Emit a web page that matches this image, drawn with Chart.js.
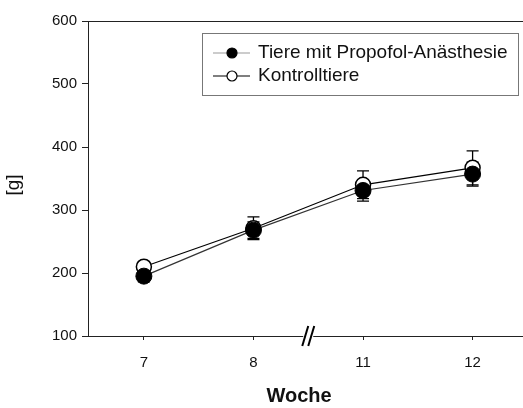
<!DOCTYPE html>
<html>
<head>
<meta charset="utf-8">
<script src="https://cdn.jsdelivr.net/npm/chart.js@4.4.1/dist/chart.umd.min.js"></script>
<style>
  html, body { margin: 0; padding: 0; background: #fff; overflow: hidden; }
  #wrap { width: 523px; height: 408px; position: relative; }
</style>
</head>
<body>
<div id="wrap"><canvas id="c" width="523" height="408"></canvas></div>
<script>
// Body weight per week, mean ± SD
const weeks = ['7', '8', '11', '12'];
const propofolMean = [195, 268, 331, 357];
const propofolErr = [9, 13, 17, 19];
const controlMean = [210, 271, 340, 367];
const controlErr = [8, 18, 22, 27];
const yTicks = [100, 200, 300, 400, 500, 600];
const labelPropofol = 'Tiere mit Propofol-Anästhesie';
const labelControl = 'Kontrolltiere';
const xTitle = 'Woche';
const yTitle = '[g]';

const FONT = '"Liberation Sans", Arial, sans-serif';

const toPoints = arr => arr.map((v, i) => ({ x: i, y: v }));

// error bars, axis break, frame, titles and legend
const decor = {
  id: 'decor',
  beforeDatasetsDraw(chart) {
    const { ctx } = chart;
    const xs = chart.scales.x, ys = chart.scales.y;
    const sets = [[controlMean, controlErr], [propofolMean, propofolErr]];
    ctx.save();
    ctx.strokeStyle = '#000';
    ctx.lineWidth = 1.3;
    sets.forEach(([m, e]) => {
      m.forEach((v, i) => {
        const x = xs.getPixelForValue(i);
        const yt = ys.getPixelForValue(v + e[i]);
        const yb = ys.getPixelForValue(v - e[i]);
        ctx.beginPath();
        ctx.moveTo(x, yt); ctx.lineTo(x, yb);
        ctx.moveTo(x - 6, yt); ctx.lineTo(x + 6, yt);
        ctx.moveTo(x - 6, yb); ctx.lineTo(x + 6, yb);
        ctx.stroke();
      });
    });
    ctx.restore();
  },
  afterDraw(chart) {
    const { ctx, chartArea } = chart;
    const xs = chart.scales.x;
    ctx.save();
    // top frame line
    ctx.strokeStyle = '#222';
    ctx.lineWidth = 1;
    ctx.beginPath();
    ctx.moveTo(chartArea.left, chartArea.top + 0.5);
    ctx.lineTo(chart.width, chartArea.top + 0.5);
    ctx.stroke();

    // axis break between week 8 and 11
    const bx = xs.getPixelForValue(1.5);
    const by = chartArea.bottom;
    ctx.fillStyle = '#fff';
    ctx.fillRect(bx - 5, by - 2, 10, 4);
    ctx.strokeStyle = '#000';
    ctx.lineWidth = 2;
    [-3, 3].forEach(d => {
      ctx.beginPath();
      ctx.moveTo(bx + d + 3, by - 10);
      ctx.lineTo(bx + d - 3, by + 10);
      ctx.stroke();
    });

    // axis titles
    ctx.fillStyle = '#111';
    ctx.textAlign = 'center';
    ctx.textBaseline = 'middle';
    ctx.font = 'bold 20px ' + FONT;
    ctx.fillText(xTitle, 299, 396);
    ctx.save();
    ctx.translate(14, 185);
    ctx.rotate(-Math.PI / 2);
    ctx.font = '19px ' + FONT;
    ctx.fillText(yTitle, 0, 0);
    ctx.restore();

    // legend
    const lx = 202.5, ly = 33.5, lw = 316, lh = 62;
    ctx.strokeStyle = '#777';
    ctx.lineWidth = 1;
    ctx.strokeRect(lx, ly, lw, lh);
    const rows = [
      { y: 53, line: '#999', fill: '#000', label: labelPropofol },
      { y: 76, line: '#000', fill: '#fff', label: labelControl }
    ];
    rows.forEach(r => {
      ctx.strokeStyle = r.line;
      ctx.lineWidth = 1.2;
      ctx.beginPath();
      ctx.moveTo(213, r.y); ctx.lineTo(250, r.y);
      ctx.stroke();
      ctx.beginPath();
      ctx.arc(232, r.y, 5, 0, Math.PI * 2);
      ctx.fillStyle = r.fill;
      ctx.fill();
      ctx.strokeStyle = '#000';
      ctx.lineWidth = 1.2;
      ctx.stroke();
      ctx.fillStyle = '#111';
      ctx.textAlign = 'left';
      ctx.font = '19px ' + FONT;
      ctx.fillText(r.label, 258, r.y);
    });
    ctx.restore();
  }
};

new Chart(document.getElementById('c'), {
  type: 'line',
  data: {
    datasets: [
      {
        label: labelPropofol,
        data: toPoints(propofolMean),
        borderColor: '#333',
        borderWidth: 1.2,
        pointRadius: 8,
        pointBackgroundColor: '#000',
        pointBorderColor: '#000',
        pointBorderWidth: 1,
        tension: 0
      },
      {
        label: labelControl,
        data: toPoints(controlMean),
        borderColor: '#000',
        borderWidth: 1.2,
        pointRadius: 7.5,
        pointBackgroundColor: '#fff',
        pointBorderColor: '#000',
        pointBorderWidth: 1.5,
        tension: 0
      }
    ]
  },
  options: {
    responsive: false,
    animation: false,
    layout: { autoPadding: false, padding: { top: 21, right: 0, left: 0, bottom: 0 } },
    plugins: { legend: { display: false }, tooltip: { enabled: false } },
    scales: {
      x: {
        type: 'linear',
        min: -0.51,
        max: 3.46,
        afterFit(s) { s.height = 72; },
        afterBuildTicks(s) { s.ticks = weeks.map((_, i) => ({ value: i })); },
        ticks: {
          callback: (v) => weeks[v],
          color: '#111',
          font: { family: FONT, size: 15 },
          padding: 14,
          maxRotation: 0
        },
        grid: { drawOnChartArea: false, tickLength: 4, color: '#222', tickWidth: 1 },
        border: { color: '#222', width: 1 }
      },
      y: {
        min: 100,
        max: 600,
        afterFit(s) { s.width = 88; },
        afterBuildTicks(s) { s.ticks = yTicks.map(v => ({ value: v })); },
        ticks: {
          color: '#111',
          font: { family: FONT, size: 15 },
          padding: 5
        },
        grid: { drawOnChartArea: false, tickLength: 6, color: '#222', tickWidth: 1 },
        border: { color: '#222', width: 1 }
      }
    }
  },
  plugins: [decor]
});
</script>
</body>
</html>
